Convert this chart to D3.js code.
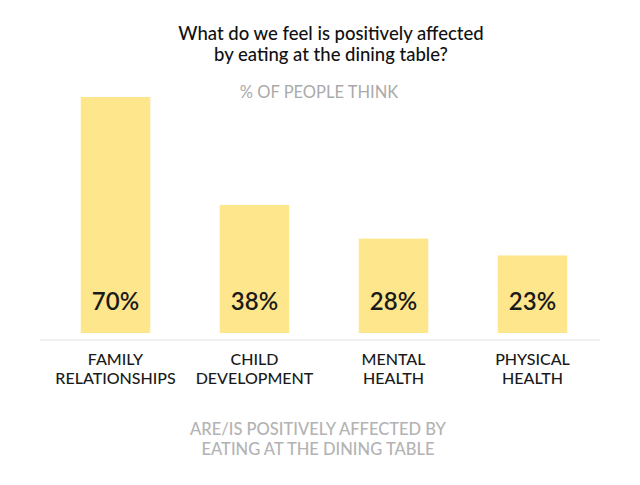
<!DOCTYPE html>
<html>
<head>
<meta charset="utf-8">
<script src="https://cdn.jsdelivr.net/npm/d3@7"></script>
<style>
  body { margin: 0; background: #fff; }
  text { font-family: "Lato", "Open Sans", sans-serif; }
</style>
</head>
<body>
<svg id="chart" width="640" height="485"></svg>
<script>
// Data
const categories = ["FAMILY|RELATIONSHIPS", "CHILD|DEVELOPMENT", "MENTAL|HEALTH", "PHYSICAL|HEALTH"];
const values = [70, 38, 28, 23];
const titleLines = ["What do we feel is positively affected", "by eating at the dining table?"];
const subtitle = "% OF PEOPLE THINK";
const footerLines = ["ARE/IS POSITIVELY AFFECTED BY", "EATING AT THE DINING TABLE"];

const svg = d3.select("#chart");
const baseY = 333;

// Scales
const x = d3.scaleBand()
  .domain(categories)
  .range([46, 602])
  .paddingInner(0.5)
  .paddingOuter(0.25);

const y = d3.scaleLinear()
  .domain([0, 70])
  .range([baseY, 97]);

// Title, one text per line
svg.append("g").selectAll("text")
  .data(titleLines)
  .join("text")
  .attr("x", 331)
  .attr("y", (d, i) => 40 + i * 21)
  .attr("text-anchor", "middle")
  .style("font-size", "18.5px")
  .style("font-weight", 500)
  .style("fill", "#111")
  .text(d => d);

// Subtitle
svg.append("text")
  .attr("x", 319)
  .attr("y", 98)
  .attr("text-anchor", "middle")
  .style("font-size", "16.5px")
  .style("fill", "#aaa")
  .text(subtitle);

// Bars
svg.append("g").selectAll("rect")
  .data(values)
  .join("rect")
  .attr("x", (d, i) => x(categories[i]))
  .attr("y", d => y(d))
  .attr("width", x.bandwidth())
  .attr("height", d => baseY - y(d))
  .style("fill", "#fde68c");

// Value labels
svg.append("g").selectAll("text")
  .data(values)
  .join("text")
  .attr("x", (d, i) => x(categories[i]) + x.bandwidth() / 2)
  .attr("y", 310)
  .attr("text-anchor", "middle")
  .style("font-size", "24px")
  .style("font-weight", 600)
  .style("fill", "#1a1a1a")
  .text(d => d + "%");

// Baseline
svg.append("line")
  .attr("x1", 40)
  .attr("x2", 600)
  .attr("y1", 340)
  .attr("y2", 340)
  .style("stroke", "#ececec")
  .style("stroke-width", "1.5px");

// Category labels
const catLabels = svg.append("g").selectAll("text")
  .data(categories)
  .join("text")
  .attr("x", d => x(d) + x.bandwidth() / 2)
  .attr("y", 365)
  .attr("text-anchor", "middle")
  .style("font-size", "16px")
  .style("font-weight", 500)
  .style("fill", "#1a1a1a");

catLabels.selectAll("tspan")
  .data(d => d.split("|"))
  .join("tspan")
  .attr("x", function() { return d3.select(this.parentNode).attr("x"); })
  .attr("dy", (d, i) => i === 0 ? 0 : 19)
  .text(d => d);

// Footer
svg.append("text")
  .attr("x", 318)
  .attr("y", 435)
  .attr("text-anchor", "middle")
  .style("font-size", "16.5px")
  .style("font-weight", 500)
  .style("fill", "#b3b3b3")
  .selectAll("tspan")
  .data(footerLines)
  .join("tspan")
  .attr("x", 318)
  .attr("dy", (d, i) => i === 0 ? 0 : 20)
  .text(d => d);
</script>
</body>
</html>
